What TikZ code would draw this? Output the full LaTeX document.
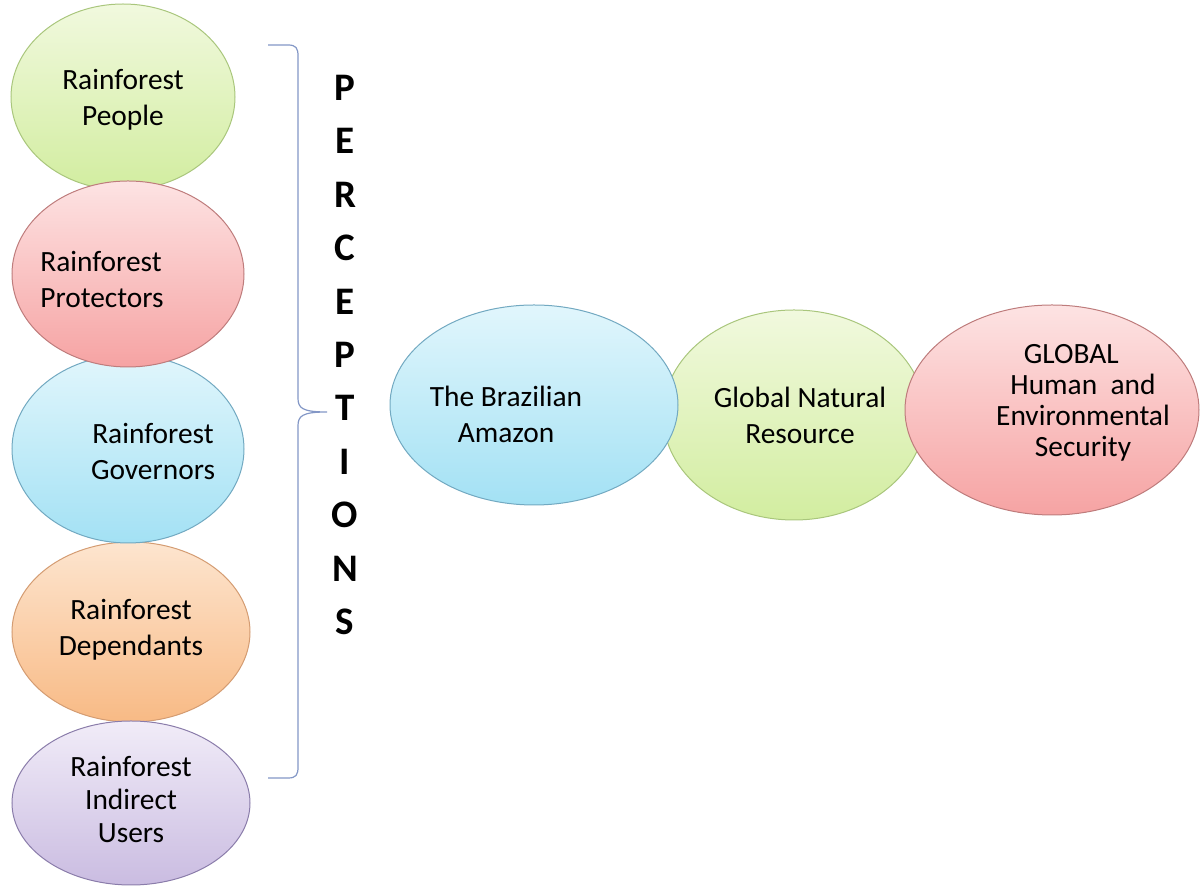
\documentclass[tikz,border=0pt]{standalone}
\usepackage{fontspec}
\setmainfont{Carlito}
\usetikzlibrary{shapes.geometric}

\definecolor{leafTop}{HTML}{F1F9DE}
\definecolor{leafBot}{HTML}{D2EDA0}
\definecolor{leafLine}{HTML}{A9C67C}
\definecolor{roseTop}{HTML}{FDE3E3}
\definecolor{roseBot}{HTML}{F6A3A3}
\definecolor{roseLine}{HTML}{BE7C7C}
\definecolor{skyTop}{HTML}{E1F6FC}
\definecolor{skyBot}{HTML}{A3E1F4}
\definecolor{skyLine}{HTML}{72A9C1}
\definecolor{peachTop}{HTML}{FDE5CF}
\definecolor{peachBot}{HTML}{F8BA85}
\definecolor{peachLine}{HTML}{D49C72}
\definecolor{lilacTop}{HTML}{F1ECF8}
\definecolor{lilacBot}{HTML}{CABCE1}
\definecolor{lilacLine}{HTML}{8A7CAA}
\definecolor{braceCol}{HTML}{8397C6}

\begin{document}
\begin{tikzpicture}[x=0.5pt, y=-0.5pt,
    bubble/.style = {draw, ellipse, inner sep=0pt, line width=0.5pt},
    leaf/.style = {bubble, draw=leafLine, top color=leafTop, bottom color=leafBot},
    rose/.style = {bubble, draw=roseLine, top color=roseTop, bottom color=roseBot},
    sky/.style = {bubble, draw=skyLine, top color=skyTop, bottom color=skyBot},
    peach/.style = {bubble, draw=peachLine, top color=peachTop, bottom color=peachBot},
    lilac/.style = {bubble, draw=lilacLine, top color=lilacTop, bottom color=lilacBot},
    txt/.style = {align=center, inner sep=0pt, font=\fontsize{14.7}{18}\selectfont},
    brace/.style = {draw=braceCol, line width=0.6pt}]
    \useasboundingbox (0,0) rectangle (1201,886);

    % left column of perceptions
    \node[leaf, minimum width=112pt, minimum height=93pt] (people) at (123,97) {};
    \node[peach, minimum width=119pt, minimum height=90pt] (depend) at (131,632) {};
    \node[lilac, minimum width=119pt, minimum height=82pt] (users) at (131,803) {};
    \node[sky, minimum width=116pt, minimum height=94pt] (govern) at (128,449) {};
    \node[rose, minimum width=116pt, minimum height=93pt] (protect) at (128,274) {};

    \node[txt] (peopleTxt) at (123,100) {Rainforest\\People};
    \node[txt, align=left] (protectTxt) at (102,280) {Rainforest\\Protectors};
    \node[txt] (governTxt) at (153,452) {Rainforest\\Governors};
    \node[txt] (dependTxt) at (131,630) {Rainforest\\Dependants};
    \node[txt, font=\fontsize{14.7}{16.5}\selectfont] (usersTxt) at (131,799) {Rainforest\\Indirect\\Users};

    % brace and vertical title
    \coordinate (braceTop) at (268,45);
    \coordinate (braceTip) at (327,412);
    \coordinate (braceBot) at (268,778);
    \draw[brace] (braceTop) -- (288,45) .. controls (296,45) and (298,48) .. (298,56)
        -- (298,398) .. controls (298,408) and (302,412) .. (braceTip)
        .. controls (302,412) and (298,416) .. (298,426)
        -- (298,767) .. controls (298,775) and (296,778) .. (288,778) -- (braceBot);
    \node[align=center, inner sep=0pt, font=\bfseries\fontsize{19.5}{26.7}\selectfont]
        (percept) at (345,355) {P\\E\\R\\C\\E\\P\\T\\I\\O\\N\\S};

    % right row
    \node[leaf, minimum width=131pt, minimum height=105pt] (resource) at (794,415) {};
    \node[sky, minimum width=144pt, minimum height=100pt] (amazon) at (534,405) {};
    \node[rose, minimum width=147pt, minimum height=105pt] (security) at (1052,410) {};

    \node[txt] (amazonTxt) at (506,414) {The Brazilian\\Amazon};
    \node[txt] (resourceTxt) at (800,415) {Global Natural\\Resource};
    \node[txt, font=\fontsize{14.7}{15.5}\selectfont] (securityTxt) at (1083,403)
        {GLOBAL\hspace*{0.8em}\\Human\ \ and\\Environmental\\Security};
\end{tikzpicture}
\end{document}
